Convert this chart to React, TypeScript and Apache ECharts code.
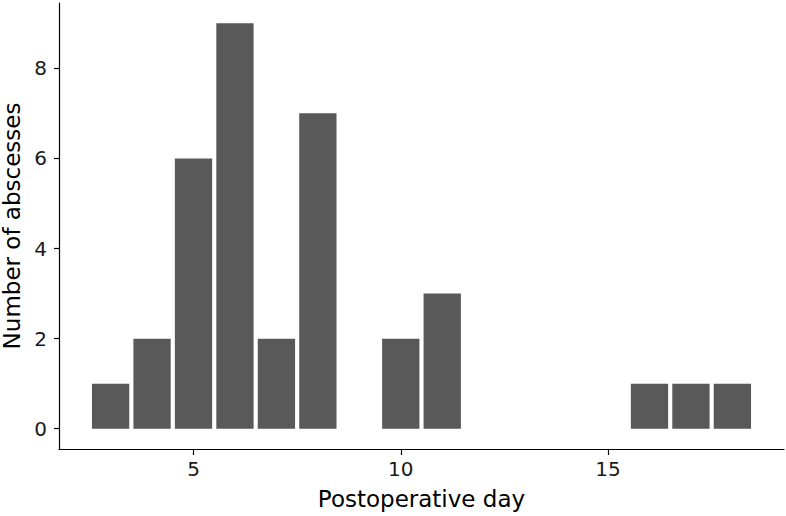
import React, { useEffect, useRef } from "react";
import * as echarts from "echarts";

const days = [3, 4, 5, 6, 7, 8, 10, 11, 16, 17, 18];
const counts = [1, 2, 6, 9, 2, 7, 2, 3, 1, 1, 1];
const xTicks = [5, 10, 15];
const yTicks = [0, 2, 4, 6, 8];
const xTitle = "Postoperative day";
const yTitle = "Number of abscesses";

const FONT = "DejaVu Sans";

export default function App() {
  const ref = useRef<HTMLDivElement>(null);
  useEffect(() => {
    if (!ref.current) return;
    const chart = echarts.init(ref.current, null, { renderer: "svg" });
    const data = days.map((d, i) => [d, counts[i]]);
    chart.setOption({
      animation: false,
      backgroundColor: "#ffffff",
      grid: { left: 59, right: 2, top: 3, bottom: 67, containLabel: false, outerBoundsMode: "none" },
      xAxis: {
        type: "value",
        min: 1.755,
        max: 19.245,
        name: xTitle,
        nameLocation: "middle",
        nameGap: 38,
        nameTextStyle: { fontFamily: FONT, fontSize: 23, color: "#000" },
        axisLine: { show: true, onZero: false, lineStyle: { color: "#000", width: 1.2 } },
        axisTick: { show: true, length: 6, customValues: xTicks, lineStyle: { color: "#000", width: 1.2 } },
        axisLabel: { customValues: xTicks, margin: 10, fontFamily: FONT, fontSize: 20, color: "#1a1a1a" },
        splitLine: { show: false },
      },
      yAxis: {
        type: "value",
        min: -0.45,
        max: 9.45,
        name: yTitle,
        nameLocation: "middle",
        nameGap: 36,
        nameRotate: 90,
        nameTextStyle: { fontFamily: FONT, fontSize: 23, color: "#000" },
        axisLine: { show: true, onZero: false, lineStyle: { color: "#000", width: 1.2 } },
        axisTick: { show: true, length: 5, customValues: yTicks, lineStyle: { color: "#000", width: 1.2 } },
        axisLabel: { customValues: yTicks, margin: 12, fontFamily: FONT, fontSize: 20, color: "#1a1a1a" },
        splitLine: { show: false },
      },
      series: [
        {
          type: "custom",
          data,
          renderItem: (params: any, api: any) => {
            const x = api.value(0);
            const y = api.value(1);
            const p1 = api.coord([x - 0.45, y]);
            const p2 = api.coord([x + 0.45, 0]);
            return {
              type: "rect",
              shape: { x: p1[0], y: p1[1], width: p2[0] - p1[0], height: p2[1] - p1[1] },
              style: { fill: "#595959" },
            };
          },
        },
      ],
    });
    return () => chart.dispose();
  }, []);
  return <div ref={ref} style={{ width: 786, height: 516, position: "fixed", left: 0, top: 0 }} />;
}
